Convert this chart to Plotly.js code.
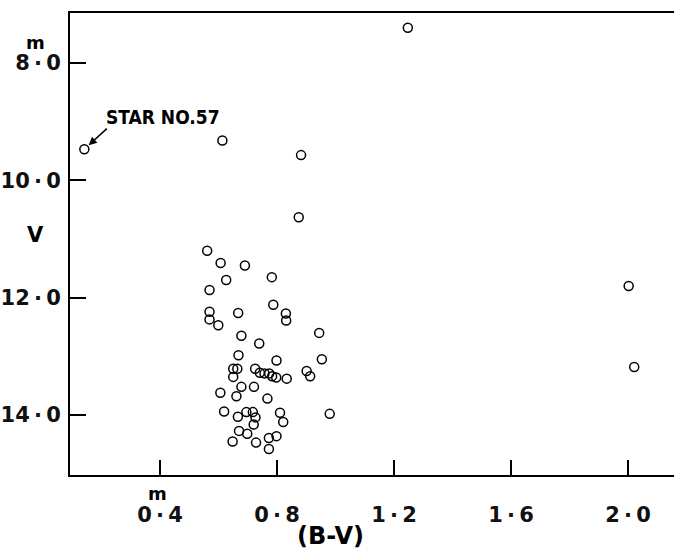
<!DOCTYPE html>
<html>
<head>
<meta charset="utf-8">
<script src="https://cdn.plot.ly/plotly-3.0.1.min.js"></script>
<style>html,body{margin:0;padding:0;background:#fff;}#chart{width:674px;height:552px;}</style>
</head>
<body>
<div id="chart"></div>
<script>
// (B-V) colour index and V magnitude of each star
const bv = [
  0.141, 0.613, 0.882, 0.874, 1.247, 2.002, 2.021,
  0.561, 0.607, 0.690, 0.626, 0.782, 0.569, 0.787, 0.569, 0.569, 0.599,
  0.667, 0.830, 0.831, 0.944, 0.678, 0.739, 0.668, 0.798, 0.953, 0.650,
  0.664, 0.650, 0.725, 0.741, 0.757, 0.773, 0.783, 0.797, 0.833, 0.901,
  0.913, 0.678, 0.721, 0.606, 0.661, 0.767, 0.619, 0.695, 0.717, 0.726,
  0.666, 0.720, 0.810, 0.821, 0.980, 0.670, 0.698, 0.648, 0.728, 0.772,
  0.798, 0.772
];
const vmag = [
  9.47, 9.32, 9.57, 10.63, 7.40, 11.80, 13.18,
  11.20, 11.41, 11.45, 11.70, 11.65, 11.87, 12.12, 12.24, 12.37, 12.47,
  12.26, 12.27, 12.39, 12.60, 12.65, 12.78, 12.98, 13.07, 13.05, 13.21,
  13.21, 13.35, 13.21, 13.28, 13.29, 13.29, 13.34, 13.36, 13.38, 13.25,
  13.34, 13.52, 13.52, 13.62, 13.68, 13.72, 13.94, 13.95, 13.95, 14.04,
  14.03, 14.16, 13.96, 14.12, 13.98, 14.27, 14.32, 14.45, 14.47, 14.39,
  14.36, 14.58
];
const xTickVals = [0.4, 0.8, 1.2, 1.6, 2.0];
const xTickText = ["0\u2009·\u20094", "0\u2009·\u20098", "1\u2009·\u20092", "1\u2009·\u20096", "2\u2009·\u20090"];
const yTickVals = [8, 10, 12, 14];
const yTickText = ["8\u2009·\u20090", "10\u2009·\u20090", "12\u2009·\u20090", "14\u2009·\u20090"];
const starLabel = "STAR NO.57";
const starIndex = 0;

const FONT = "DejaVu Sans, Liberation Sans, sans-serif";

const trace = {
  x: bv, y: vmag, type: "scatter", mode: "markers",
  marker: {symbol: "circle-open", size: 9, color: "#000", line: {width: 1.5, color: "#000"}},
  hoverinfo: "x+y", showlegend: false
};

const layout = {
  width: 674, height: 552,
  margin: {l: 70, r: 0, t: 13, b: 77},
  paper_bgcolor: "#fff", plot_bgcolor: "#fff",
  font: {family: FONT, color: "#000"},
  showlegend: false,
  xaxis: {
    range: [0.092, 2.157], tickvals: xTickVals, ticktext: xTickText,
    ticks: "inside", ticklen: 15, tickwidth: 2, tickcolor: "#000",
    showline: true, linewidth: 2, linecolor: "#000", mirror: true,
    showgrid: false, zeroline: false,
    tickfont: {family: FONT, size: 21, color: "#111", weight: "bold"},
    ticklabelstandoff: 20
  },
  yaxis: {
    range: [15.022, 7.148], tickvals: yTickVals, ticktext: yTickText,
    ticks: "inside", ticklen: 16, tickwidth: 2, tickcolor: "#000",
    showline: true, linewidth: 2, linecolor: "#000", mirror: false,
    showgrid: false, zeroline: false,
    tickfont: {family: FONT, size: 21, color: "#111", weight: "bold"},
    ticklabelstandoff: 3
  },
  annotations: [
    {xref: "paper", yref: "y", x: 0, y: 8, xshift: -35, yshift: 20, text: "m", showarrow: false,
     font: {family: FONT, size: 18, weight: "bold"}, xanchor: "center", yanchor: "middle"},
    {xref: "x", yref: "paper", x: 0.4, y: 0, xshift: -3, yshift: -18, text: "m", showarrow: false,
     font: {family: FONT, size: 18, weight: "bold"}, xanchor: "center", yanchor: "middle"},
    {xref: "paper", yref: "paper", x: 0, y: 0.519, xshift: -35, text: "V", showarrow: false,
     font: {family: FONT, size: 21, weight: "bold"}, xanchor: "center", yanchor: "middle"},
    {xref: "paper", yref: "paper", x: 0.432, y: 0, yshift: -61, text: "(B-V)", showarrow: false,
     font: {family: FONT, size: 24, weight: "bold"}, xanchor: "center", yanchor: "middle"},
    {xref: "x", yref: "y", x: bv[starIndex], y: vmag[starIndex], text: starLabel,
     showarrow: false, xshift: 79, yshift: 32,
     font: {family: "DejaVu Sans Condensed, DejaVu Sans, sans-serif", size: 19, weight: "bold"},
     xanchor: "center", yanchor: "middle"},
    {xref: "x", yref: "y", x: bv[starIndex], y: vmag[starIndex], ax: 24, ay: -22, text: "",
     showarrow: true, arrowhead: 2, arrowsize: 1, arrowwidth: 1.6, arrowcolor: "#000", standoff: 6}
  ]
};

Plotly.newPlot("chart", [trace], layout, {displayModeBar: false, staticPlot: true});
</script>
</body>
</html>
